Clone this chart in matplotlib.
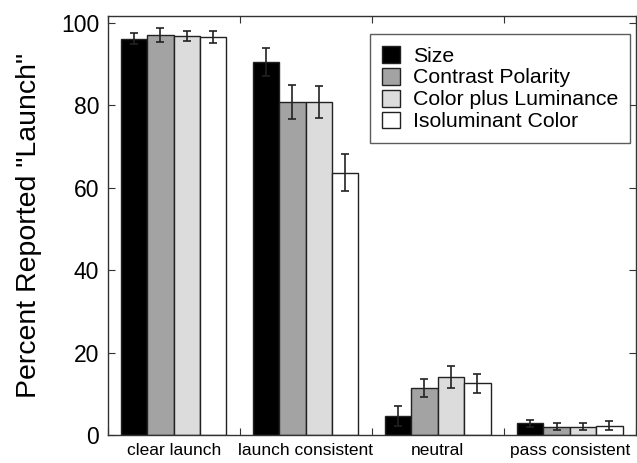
import matplotlib
matplotlib.use("Agg")
import matplotlib.pyplot as plt
import numpy as np

plt.rcParams['font.family'] = ['Liberation Sans', 'DejaVu Sans']

categories = ["clear launch", "launch consistent", "neutral", "pass consistent"]
series = ["Size", "Contrast Polarity", "Color plus Luminance", "Isoluminant Color"]
colors = ["#000000", "#a3a3a3", "#dcdcdc", "#ffffff"]

values = {
    "Size": [96.1, 90.4, 4.7, 2.8],
    "Contrast Polarity": [97.0, 80.7, 11.4, 2.0],
    "Color plus Luminance": [96.8, 80.7, 14.1, 2.0],
    "Isoluminant Color": [96.5, 63.6, 12.5, 2.3],
}
errors = {
    "Size": [1.4, 3.4, 2.4, 0.8],
    "Contrast Polarity": [1.8, 4.1, 2.2, 0.8],
    "Color plus Luminance": [1.2, 3.8, 2.6, 0.9],
    "Isoluminant Color": [1.5, 4.5, 2.3, 1.1],
}
yticks = [0, 20, 40, 60, 80, 100]

fig = plt.figure(figsize=(6.37, 4.63), dpi=100)
ax = fig.add_axes([0.169, 0.0605, 0.829, 0.905])

width = 0.2
x = np.arange(len(categories))
for i, s in enumerate(series):
    pos = x + 0.2 + i * width
    ax.bar(pos, values[s], width, color=colors[i], edgecolor="#222222",
           linewidth=1.0, label=s, zorder=2)
    ax.errorbar(pos, values[s], yerr=errors[s], fmt='none', ecolor="#222222",
                elinewidth=1.2, capsize=3, capthick=1.2, zorder=3)

ax.set_xlim(0, len(categories))
ax.set_ylim(0, 101.6)
ax.set_yticks(yticks)
ax.set_xticks(np.arange(len(categories) + 1))
ax.set_xticklabels([])
ax.set_xticks(x + 0.5, minor=True)
ax.set_xticklabels(categories, minor=True, fontsize=12.5)
ax.tick_params(axis='x', which='minor', length=0, pad=6)
ax.tick_params(axis='both', which='major', direction='in', length=5,
               top=True, right=True, color="#333333")
ax.tick_params(axis='y', labelsize=16.5, pad=6)
for sp in ax.spines.values():
    sp.set_color("#333333")
    sp.set_linewidth(1.0)

ax.set_ylabel('Percent Reported "Launch"', fontsize=20.5, labelpad=14)

leg = ax.legend(loc='upper right', bbox_to_anchor=(0.989, 0.957), fontsize=15.3,
                frameon=True, fancybox=False, edgecolor="#333333",
                handlelength=0.85, handleheight=0.85, handletextpad=0.6,
                labelspacing=0.1, borderpad=0.55, borderaxespad=0)
leg.get_frame().set_linewidth(1.0)

fig.savefig("out.png", dpi=100)
